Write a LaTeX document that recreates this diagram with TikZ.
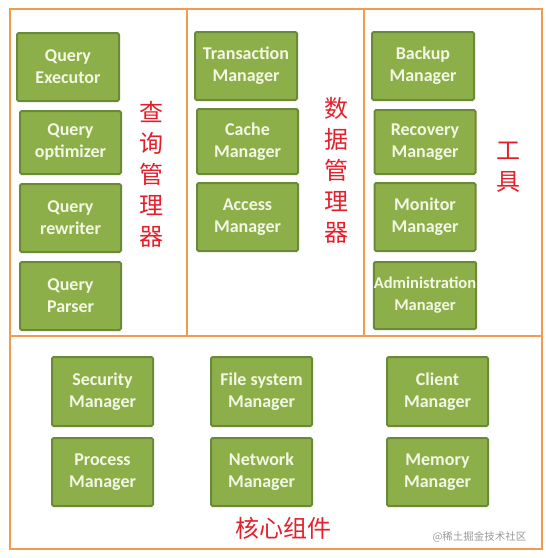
\documentclass[tikz,border=0pt]{standalone}
\usepackage{fontspec}
\setmainfont{Carlito}
\newfontfamily\cjk{Noto Sans CJK SC}
\usetikzlibrary{positioning}
\definecolor{mOrange}{HTML}{F29B4F}
\definecolor{mLeaf}{HTML}{8DAF4A}
\definecolor{mLeafDark}{HTML}{6B8A38}
\definecolor{mCream}{HTML}{F4F7E4}
\definecolor{mRed}{HTML}{E3202B}

\begin{document}
\begin{tikzpicture}[x=1pt, y=-1pt,
  panel/.style={draw=mOrange, line width=2.6pt},
  mgr/.style={draw=mLeafDark, fill=mLeaf, line width=2pt, rounded corners=1.5pt,
              minimum width=101pt, minimum height=68pt, inner sep=0pt, align=center,
              text=mCream, font=\fontsize{18}{22}\selectfont\bfseries},
  zh/.style={text=mRed, font=\fontsize{24}{31}\selectfont\cjk, align=center, inner sep=0pt},
]
  \useasboundingbox (0,0) rectangle (546,558);
  % frame and dividers
  \draw[panel] (10,9) rectangle (542,549);
  \draw[panel] (10,336) -- (542,336);
  \draw[panel] (187,9) -- (187,336);
  \draw[panel] (364,9) -- (364,336);

  % query manager
  \node[mgr, minimum width=102pt] (qexec) at (68,67) {Query\\Executor};
  \node[mgr, minimum height=63pt] (qopt) at (70.5,142.5) {Query\\optimizer};
  \node[mgr] (qrew) at (70.5,218) {Query\\rewriter};
  \node[mgr] (qpar) at (70.5,296) {Query\\Parser};
  \node[zh] (qlabel) at (151,174) {查\\询\\管\\理\\器};

  % data manager
  \node[mgr, minimum width=102pt] (trans) at (246,66) {Transaction\\Manager};
  \node[mgr, minimum height=65pt] (cache) at (247.5,141.5) {Cache\\Manager};
  \node[mgr] (access) at (247.5,217) {Access\\Manager};
  \node[zh] (dlabel) at (336,170) {数\\据\\管\\理\\器};

  % tools
  \node[mgr, minimum width=102pt] (backup) at (423,66) {Backup\\Manager};
  \node[mgr, minimum height=64pt] (recov) at (425,142) {Recovery\\Manager};
  \node[mgr] (monit) at (425,217) {Monitor\\Manager};
  \node[mgr, minimum height=67pt] (admin) at (425,295.5)
    {{\fontsize{16.5}{22}\selectfont Administration}\\{\fontsize{16.5}{22}\selectfont Manager}};
  \node[zh] (tlabel) at (508,167) {工\\具};

  % core components
  \node[mgr, minimum height=69pt] (secu) at (102.5,391.5) {Security\\Manager};
  \node[mgr, below=10pt of secu] (proc) {Process\\Manager};
  \node[mgr, minimum height=69pt] (files) at (261.5,391.5) {File system\\Manager};
  \node[mgr, below=10pt of files] (netw) {Network\\Manager};
  \node[mgr, minimum height=69pt] (client) at (437.5,391.5) {Client\\Manager};
  \node[mgr, below=10pt of client] (memory) {Memory\\Manager};
  \node[zh] (clabel) at (283.5,528) {核心组件};
  \node[text=black!40, font=\fontsize{10.5}{12}\selectfont\cjk, inner sep=0pt] (wmark) at (479.5,537) {@稀土掘金技术社区};
\end{tikzpicture}
\end{document}
